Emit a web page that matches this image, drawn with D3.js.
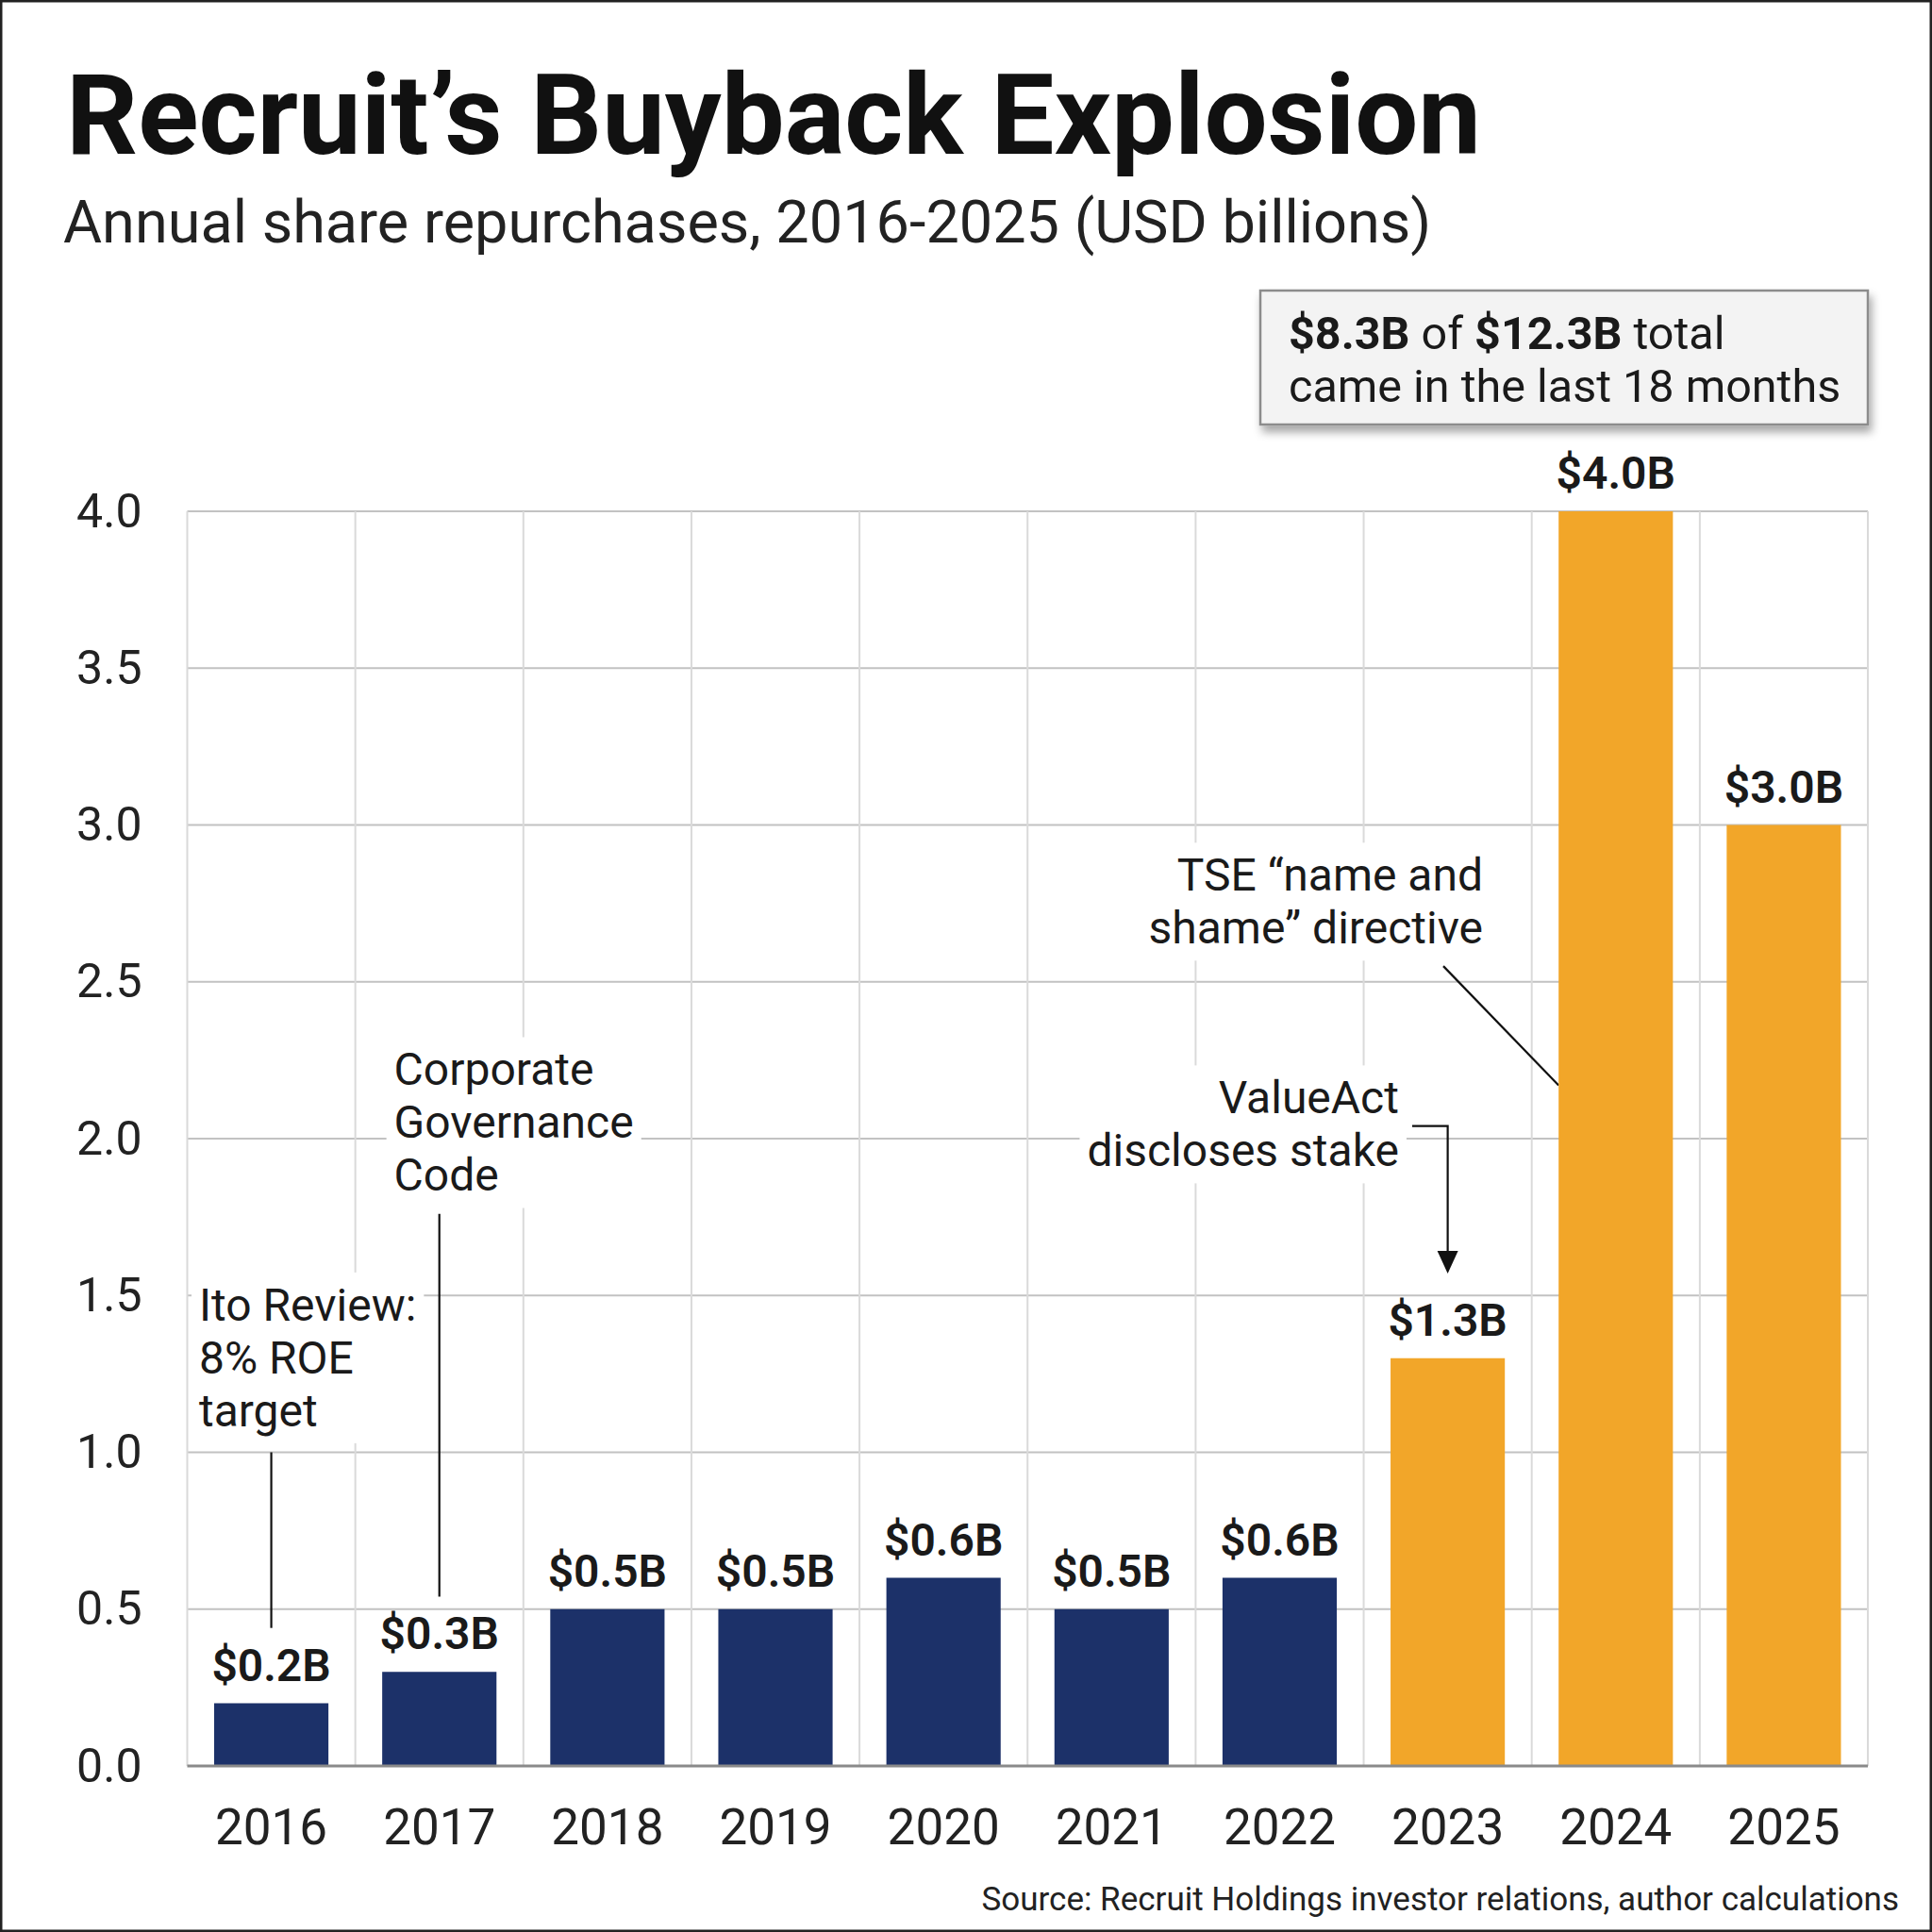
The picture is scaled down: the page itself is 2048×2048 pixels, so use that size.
<!DOCTYPE html>
<html>
<head>
<meta charset="utf-8">
<script src="https://cdn.jsdelivr.net/npm/d3@7"></script>
<style>
  body { margin: 0; background: #fff; }
  text { font-family: Roboto, "Noto Sans", sans-serif; }
</style>
</head>
<body>
<svg id="chart" width="2048" height="2048"></svg>
<script>
// data
var years = ["2016","2017","2018","2019","2020","2021","2022","2023","2024","2025"];
var buybacks = [0.2, 0.3, 0.5, 0.5, 0.6, 0.5, 0.6, 1.3, 4.0, 3.0];
var highlightFrom = "2023";
var yTicks = [0, 0.5, 1.0, 1.5, 2.0, 2.5, 3.0, 3.5, 4.0];

var titleText = "Recruit\u2019s Buyback Explosion";
var subtitleText = "Annual share repurchases, 2016-2025 (USD billions)";
var sourceText = "Source: Recruit Holdings investor relations, author calculations";

// callouts: year they point to, text lines, y value of first baseline
var notes = [
  {year:"2016", lines:["Ito Review:","8% ROE","target"], textY:1.42, anchor:"start", dx:-0.43, lineFrom:1.0, lineTo:0.44, kind:"vline"},
  {year:"2017", lines:["Corporate","Governance","Code"], textY:2.17, anchor:"start", dx:-0.27, lineFrom:1.76, lineTo:0.54, kind:"vline"},
  {year:"2023", lines:["ValueAct","discloses stake"], textY:2.08, anchor:"end", dx:-0.29, lineFrom:2.04, lineTo:1.57, kind:"arrow"},
  {year:"2024", lines:["TSE \u201cname and","shame\u201d directive"], textY:2.79, anchor:"end", dx:-0.79, lineFrom:2.55, lineTo:2.17, kind:"diag", lineDx:-1.026}
];

var W = 2048, H = 2048;
var plot = {left:198.5, right:1980, top:542, bottom:1872};
var navy = "#1c3169", orange = "#f2a629";

var svg = d3.select("#chart");
svg.append("rect").attr("width",W).attr("height",H).attr("fill","#fff");

var defs = svg.append("defs");
var shadow = defs.append("filter").attr("id","shadow").attr("x","-10%").attr("y","-10%").attr("width","130%").attr("height","140%");
shadow.append("feDropShadow").attr("dx",3).attr("dy",7).attr("stdDeviation",5).attr("flood-color","#000").attr("flood-opacity",0.35);

var x = d3.scaleBand().domain(years).range([plot.left, plot.right]).paddingInner(0.32).paddingOuter(0.16);
var y = d3.scaleLinear().domain([0, 4]).range([plot.bottom, plot.top]);
var step = x.step();

// grid
var grid = svg.append("g").attr("class","grid");
grid.selectAll("line.h").data(yTicks.filter(function(d){ return d > 0; })).enter()
  .append("line").attr("class","h")
  .attr("x1",plot.left).attr("x2",plot.right)
  .attr("y1",function(d){ return y(d); }).attr("y2",function(d){ return y(d); })
  .attr("stroke","#c2c2c2").attr("stroke-width",2);
grid.selectAll("line.v").data(d3.range(years.length + 1)).enter()
  .append("line").attr("class","v")
  .attr("x1",function(i){ return plot.left + i*step; }).attr("x2",function(i){ return plot.left + i*step; })
  .attr("y1",plot.top).attr("y2",plot.bottom)
  .attr("stroke","#dadada").attr("stroke-width",2);

// title
svg.append("text").attr("x",70).attr("y",163).attr("font-size",119).attr("font-weight",700)
  .attr("fill","#111").text(titleText);
svg.append("text").attr("x",67).attr("y",257).attr("font-size",63).attr("fill","#222").text(subtitleText);

// y axis
var yAxis = svg.append("g").attr("transform","translate(" + plot.left + ",0)")
  .call(d3.axisLeft(y).tickValues(yTicks).tickFormat(d3.format(".1f")).tickSize(0).tickPadding(48));
yAxis.select(".domain").remove();
yAxis.selectAll("text").attr("font-size",50).attr("fill","#222").attr("font-family","Roboto");

// x axis
var xAxis = svg.append("g").attr("transform","translate(0," + plot.bottom + ")")
  .call(d3.axisBottom(x).tickSize(0).tickPadding(45));
xAxis.select(".domain").remove();
xAxis.selectAll("text").attr("font-size",53).attr("fill","#222").attr("font-family","Roboto");

// annotation texts (with white backing) and leaders
var noteG = svg.append("g").attr("class","notes");
notes.forEach(function(n){
  var cx = x(n.year) + x.bandwidth()/2;
  var tx = cx + n.dx*step;
  var g = noteG.append("g");
  var t = g.append("text").attr("font-size",48).attr("fill","#1a1a1a").attr("text-anchor",n.anchor);
  n.lines.forEach(function(l,i){
    t.append("tspan").attr("x",tx).attr("y",y(n.textY) + i*56).text(l);
  });
  var bb = t.node().getBBox();
  g.insert("rect","text").attr("x",bb.x-8).attr("y",bb.y-6).attr("width",bb.width+16).attr("height",bb.height+12).attr("fill","#fff");

  if(n.kind == "vline"){
    noteG.append("line").attr("x1",cx).attr("x2",cx).attr("y1",y(n.lineFrom)).attr("y2",y(n.lineTo))
      .attr("stroke","#111").attr("stroke-width",2.2);
  }
  else if(n.kind == "arrow"){
    var ya = y(n.lineFrom), yb = y(n.lineTo);
    noteG.append("path").attr("d","M" + (tx+14) + "," + ya + "H" + cx + "V" + (yb-22))
      .attr("fill","none").attr("stroke","#111").attr("stroke-width",2.2);
    noteG.append("path").attr("d","M" + (cx-11) + "," + (yb-24) + "L" + (cx+11) + "," + (yb-24) + "L" + cx + "," + yb + "Z")
      .attr("fill","#111");
  }
  else{
    noteG.append("line").attr("x1",cx + n.lineDx*step).attr("y1",y(n.lineFrom))
      .attr("x2",x(n.year)).attr("y2",y(n.lineTo))
      .attr("stroke","#111").attr("stroke-width",2.2);
  }
});

// bars
svg.append("g").selectAll("rect").data(years).enter().append("rect")
  .attr("x",function(d){ return x(d); })
  .attr("width",x.bandwidth())
  .attr("y",function(d,i){ return y(buybacks[i]); })
  .attr("height",function(d,i){ return y(0) - y(buybacks[i]); })
  .attr("fill",function(d){ return +d >= +highlightFrom ? orange : navy; });

// baseline
svg.append("line").attr("x1",plot.left).attr("x2",plot.right).attr("y1",y(0)).attr("y2",y(0))
  .attr("stroke","#8a8a8a").attr("stroke-width",3);

// value labels
svg.append("g").selectAll("text").data(years).enter().append("text")
  .attr("x",function(d){ return x(d) + x.bandwidth()/2; })
  .attr("y",function(d,i){ return y(buybacks[i]) - 24; })
  .attr("text-anchor","middle").attr("font-size",48).attr("font-weight",600).attr("fill","#1a1a1a")
  .text(function(d,i){ return "$" + d3.format(".1f")(buybacks[i]) + "B"; });

// callout box
var box = svg.append("g");
box.append("rect").attr("x",1336).attr("y",308).attr("width",644).attr("height",142)
  .attr("fill","#f3f3f3").attr("stroke","#8c8c8c").attr("stroke-width",2.5).attr("filter","url(#shadow)");
var bt = box.append("text").attr("x",1366).attr("y",370).attr("font-size",48.5).attr("fill","#1a1a1a");
bt.append("tspan").attr("font-weight",700).text("$8.3B");
bt.append("tspan").text(" of ");
bt.append("tspan").attr("font-weight",700).text("$12.3B");
bt.append("tspan").text(" total");
box.append("text").attr("x",1366).attr("y",426).attr("font-size",48.5).attr("fill","#1a1a1a").text("came in the last 18 months");

// source
svg.append("text").attr("x",2013).attr("y",2025).attr("text-anchor","end").attr("font-size",35)
  .attr("fill","#222").text(sourceText);

// frame
svg.append("rect").attr("x",1).attr("y",1).attr("width",W-2).attr("height",H-2)
  .attr("fill","none").attr("stroke","#222").attr("stroke-width",3);
</script>
</body>
</html>
